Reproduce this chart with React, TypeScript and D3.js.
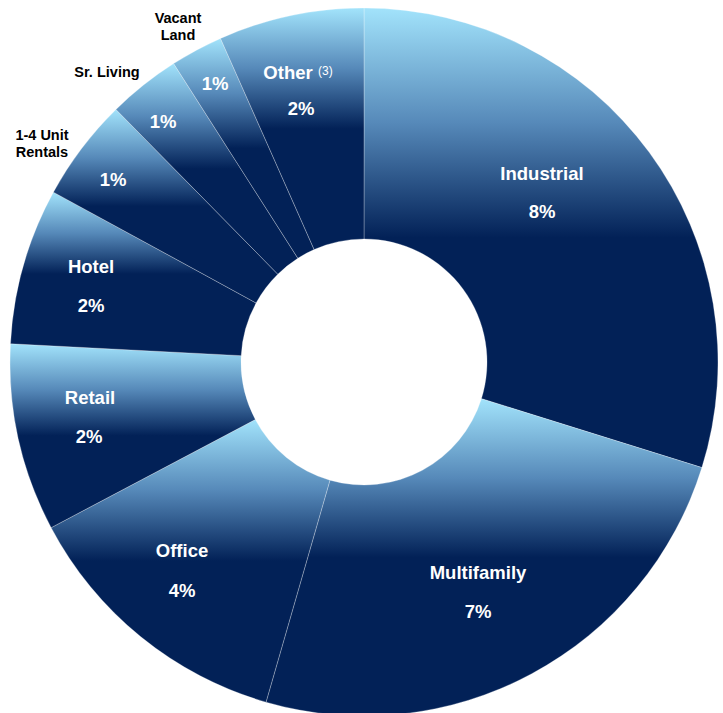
import React from "react";
import * as d3 from "d3";

// ---- data ----
const categories = ["Industrial", "Multifamily", "Office", "Retail", "Hotel", "1-4 Unit Rentals", "Sr. Living", "Vacant Land", "Other"];
const shares = [8.35, 6.9, 3.58, 2.4, 2.0, 1.31, 0.93, 0.67, 1.86];
const pctLabels = ["8%", "7%", "4%", "2%", "2%", "1%", "1%", "1%", "2%"];

// ---- layout (label placement) ----
const nameLines = [["Industrial"], ["Multifamily"], ["Office"], ["Retail"], ["Hotel"], ["1-4 Unit", "Rentals"], ["Sr. Living"], ["Vacant", "Land"], ["Other"]];
const nameInside = [true, true, true, true, true, false, false, false, true];
const namePos: [number, number][] = [[542, 180], [478, 579], [182, 557], [90, 404], [91, 273], [42, 140], [107, 77], [178, 23], [288, 79]];
const pctPos: [number, number][] = [[542, 218], [478, 618], [182, 597], [89, 443], [91, 312], [113, 186], [163, 128], [215, 90], [301, 115]];

const W = 723, H = 713;
const CX = 364, CY = 362, R_OUT = 354, R_IN = 123;
const LIGHT = "#a2e3fb";
const DARK = "#022157";
const FONT = "'Liberation Sans', Arial, Helvetica, sans-serif";

export default function App() {
  const pie = d3.pie<number>().sort(null).value((d) => d).startAngle(0).endAngle(2 * Math.PI);
  const arcs = pie(shares);
  const arc = d3.arc<d3.PieArcDatum<number>>().innerRadius(R_IN).outerRadius(R_OUT);

  return (
    <div style={{ position: "absolute", left: 0, top: 0, width: W, height: H, background: "#fff" }}>
      <svg width={W} height={H} style={{ display: "block" }}>
        <defs>
          {arcs.map((_, i) => (
            <linearGradient key={i} id={`g${i}`} x1="0" y1="0" x2="0" y2="1">
              <stop offset="0" stopColor={LIGHT} />
              <stop offset="0.25" stopColor="#5689b9" />
              <stop offset="0.5" stopColor={DARK} />
              <stop offset="1" stopColor={DARK} />
            </linearGradient>
          ))}
        </defs>
        <g transform={`translate(${CX},${CY})`}>
          {arcs.map((a, i) => (
            <path key={i} d={arc(a) || ""} fill={`url(#g${i})`} stroke="rgba(255,255,255,0.35)" strokeWidth={0.8} />
          ))}
        </g>
        <g fontFamily={FONT} fontWeight="bold" textAnchor="middle">
          {categories.map((c, i) => (
            <g key={c}>
              <text
                x={namePos[i][0]}
                y={namePos[i][1]}
                fill={nameInside[i] ? "#ffffff" : "#000000"}
                fontSize={nameInside[i] ? 18.5 : 14.5}
              >
                {nameLines[i].map((ln, j) => (
                  <tspan key={j} x={namePos[i][0]} dy={j === 0 ? 0 : 17}>
                    {ln}
                  </tspan>
                ))}
              </text>
              {c === "Other" && (
                <text x={namePos[i][0] + 30} y={namePos[i][1] - 4} fill="#fff" fontSize={12} fontWeight="normal" textAnchor="start">
                  (3)
                </text>
              )}
              <text x={pctPos[i][0]} y={pctPos[i][1]} fill="#fff" fontSize={18.5}>
                {pctLabels[i]}
              </text>
            </g>
          ))}
        </g>
      </svg>
    </div>
  );
}
